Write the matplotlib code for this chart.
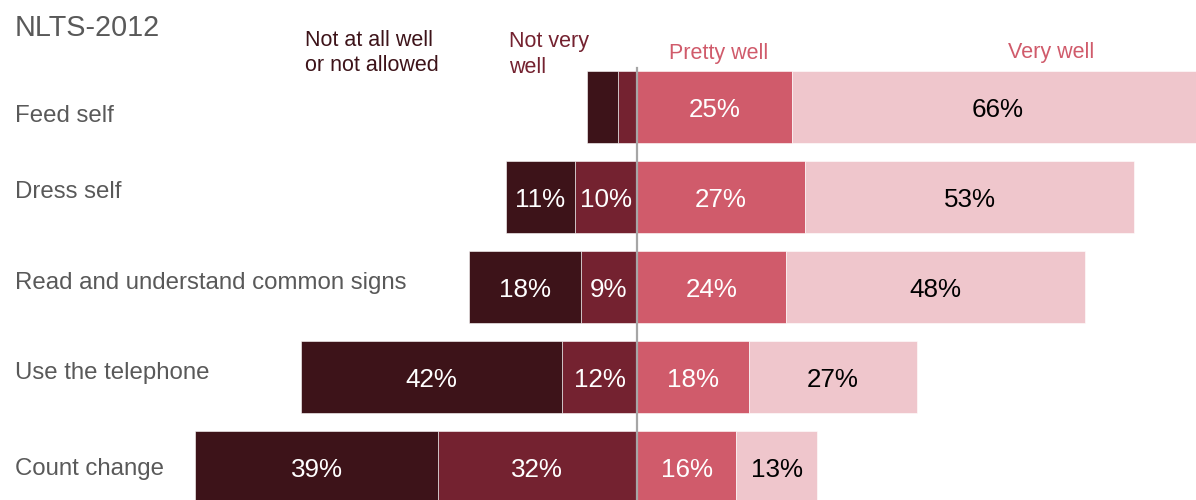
import matplotlib
matplotlib.use("Agg")
import matplotlib.pyplot as plt

plt.rcParams['font.family'] = ['Liberation Sans', 'DejaVu Sans']

# NLTS-2012 self-care / functional skills, percent of respondents
categories = ["Feed self", "Dress self", "Read and understand common signs",
              "Use the telephone", "Count change"]
not_at_all = [5, 11, 18, 42, 39]
not_very = [3, 10, 9, 12, 32]
pretty_well = [25, 27, 24, 18, 16]
very_well = [66, 53, 48, 27, 13]

c_dark = "#3d1319"
c_mid = "#742230"
c_pink = "#d05b6b"
c_light = "#efc6cc"
c_grey = "#595959"

fig = plt.figure(figsize=(11.96, 5.0), dpi=100)
ax = fig.add_axes([0, 0, 1, 1])
ax.set_xlim(-102.4, 89.9)
ax.set_ylim(4.367, -1.189)
ax.axis("off")

h = 0.79
ypos = list(range(len(categories)))

# left side: negatives stacked outward from zero
left_mid = [-v for v in not_very]
left_dark = [-(a + b) for a, b in zip(not_very, not_at_all)]
ax.barh(ypos, not_very, left=left_mid, height=h, color=c_mid,
        edgecolor="white", linewidth=0.4)
ax.barh(ypos, not_at_all, left=left_dark, height=h, color=c_dark,
        edgecolor="white", linewidth=0.4)
ax.barh(ypos, pretty_well, left=0, height=h, color=c_pink,
        edgecolor="white", linewidth=0.4)
ax.barh(ypos, very_well, left=pretty_well, height=h, color=c_light,
        edgecolor="white", linewidth=0.4)

# value labels, skipped for very thin segments
for i in ypos:
    segs = [
        (left_dark[i], not_at_all[i], "white"),
        (left_mid[i], not_very[i], "white"),
        (0, pretty_well[i], "white"),
        (pretty_well[i], very_well[i], "black"),
    ]
    for start, width, col in segs:
        if width < 8:
            continue
        ax.text(start + width / 2, i + 0.03, f"{width}%", ha="center",
                va="center", fontsize=18.7, color=col)

# zero line
ax.plot([0, 0], [-0.433, 4.367], color="#a6a6a6", lw=1.6, zorder=5)

# category names down the left, nudged a little off the bar centre
nudges = [0.1, -0.06, -0.04, -0.04, 0.02]
for i, name in enumerate(categories):
    ax.text(-100, i + nudges[i], name, ha="left", va="center",
            fontsize=17.3, color=c_grey)

ax.text(-100, -0.875, "NLTS-2012", ha="left", va="center",
        fontsize=20.7, color=c_grey)

# response headers
ax.text(-53.4, -0.6, "Not at all well\nor not allowed", ha="left",
        va="center", fontsize=15.5, color=c_dark, linespacing=1.3)
ax.text(-20.6, -0.58, "Not very\nwell", ha="left", va="center",
        fontsize=15.5, color=c_mid, linespacing=1.3)
ax.text(13.2, -0.59, "Pretty well", ha="center", va="center",
        fontsize=15.5, color=c_pink)
ax.text(66.6, -0.61, "Very well", ha="center", va="center",
        fontsize=15.5, color=c_pink)

fig.savefig("out.png", dpi=100)
